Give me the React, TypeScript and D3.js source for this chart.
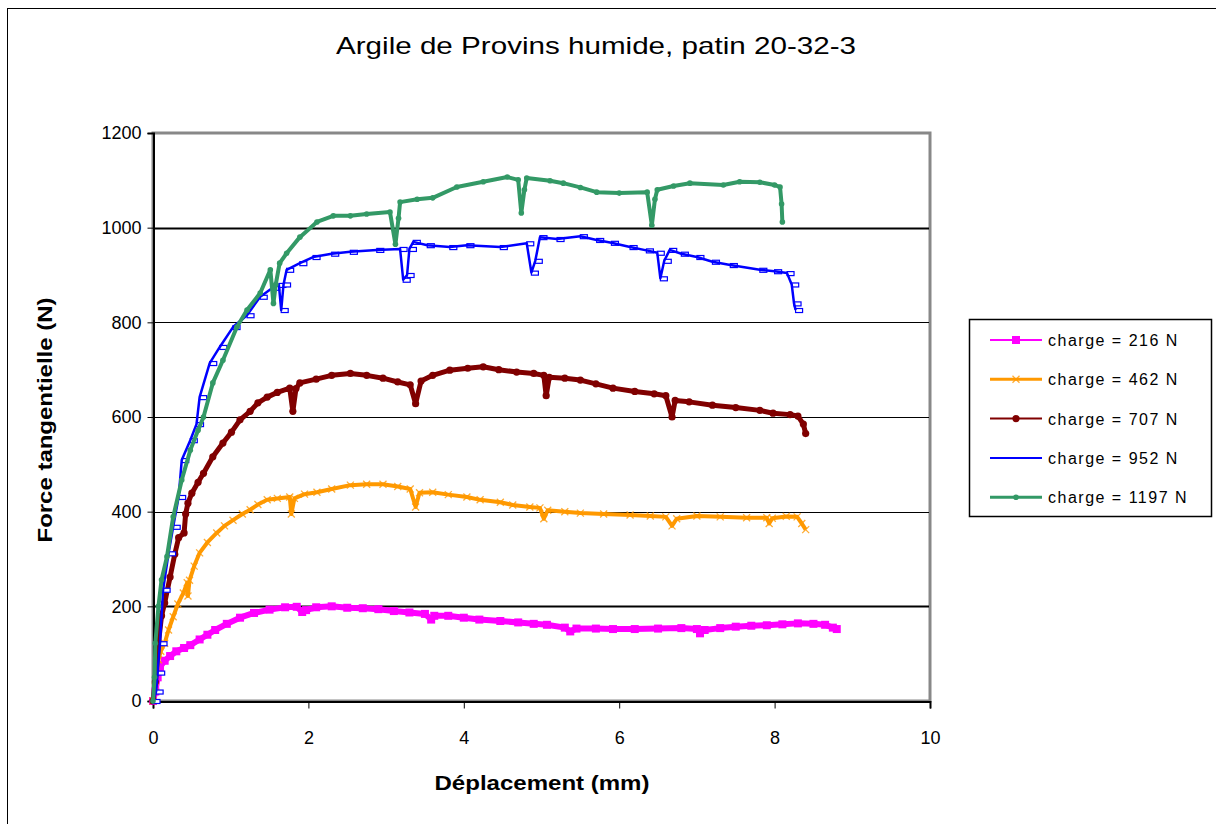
import * as React from 'react';
import {useEffect, useRef} from 'react';
import * as d3 from 'd3';

// déplacement (mm), force tangentielle (N)
const serie216 = [
  [0, 0], [0.03, 20], [0.06, 50], [0.09, 72], [0.15, 85], [0.22, 95], [0.3, 105], [0.4, 112], [0.48, 118],
  [0.6, 130], [0.7, 140], [0.8, 150], [0.95, 163], [1.12, 176], [1.3, 186], [1.5, 193], [1.7, 198], [1.85, 199],
  [1.92, 188], [1.97, 192], [2.1, 198], [2.3, 200], [2.5, 197], [2.7, 196], [2.9, 194], [3.1, 190], [3.3, 187],
  [3.5, 184], [3.58, 172], [3.62, 180], [3.8, 180], [4.0, 176], [4.2, 172], [4.47, 169], [4.7, 166], [4.9, 163],
  [5.07, 161], [5.3, 155], [5.37, 147], [5.45, 153], [5.7, 153], [5.92, 152], [6.2, 152], [6.5, 153], [6.8, 154],
  [7.0, 152], [7.04, 143], [7.1, 150], [7.3, 154], [7.5, 157], [7.7, 159], [7.9, 160], [8.1, 162], [8.3, 164],
  [8.5, 163], [8.65, 161], [8.75, 155], [8.8, 152]
];

const serie462 = [
  [0, 0], [0.03, 30], [0.07, 87], [0.1, 105], [0.15, 122], [0.2, 150], [0.26, 178], [0.32, 205], [0.39, 228],
  [0.44, 250], [0.45, 222], [0.47, 255], [0.53, 285], [0.6, 313], [0.7, 335], [0.82, 355], [0.92, 370], [1.03, 382],
  [1.15, 395], [1.25, 404], [1.35, 415], [1.47, 425], [1.6, 428], [1.76, 431], [1.78, 395], [1.82, 428], [1.95, 437],
  [2.11, 441], [2.3, 448], [2.54, 456], [2.75, 458], [2.96, 458], [3.15, 453], [3.31, 448], [3.38, 410], [3.43, 440],
  [3.6, 441], [3.8, 436], [4.04, 431], [4.21, 425], [4.47, 420], [4.63, 414], [4.85, 410], [4.98, 408], [5.03, 385],
  [5.08, 403], [5.3, 400], [5.5, 397], [5.8, 395], [6.14, 393], [6.4, 391], [6.6, 389], [6.68, 370], [6.74, 385],
  [7.0, 391], [7.3, 389], [7.64, 387], [7.9, 387], [7.93, 375], [7.97, 386], [8.15, 390], [8.29, 389], [8.35, 375],
  [8.4, 362]
];

const serie707 = [
  [0, 0], [0.03, 40], [0.07, 122], [0.11, 180], [0.15, 207], [0.22, 262], [0.28, 310], [0.33, 345], [0.4, 355],
  [0.42, 395], [0.45, 418], [0.5, 439], [0.58, 462], [0.65, 481], [0.77, 516], [0.9, 545], [1.01, 568], [1.12, 594],
  [1.25, 612], [1.35, 630], [1.47, 642], [1.6, 652], [1.76, 661], [1.8, 612], [1.84, 660], [1.89, 672], [2.1, 680],
  [2.3, 688], [2.54, 692], [2.75, 688], [2.96, 682], [3.15, 674], [3.31, 668], [3.38, 628], [3.45, 676], [3.6, 688],
  [3.82, 699], [4.05, 703], [4.25, 706], [4.45, 700], [4.68, 695], [4.9, 692], [5.03, 688], [5.06, 645], [5.1, 684],
  [5.3, 682], [5.5, 678], [5.7, 670], [5.92, 661], [6.2, 654], [6.45, 649], [6.6, 645], [6.68, 600], [6.72, 635],
  [6.9, 632], [7.2, 625], [7.5, 620], [7.81, 614], [7.98, 608], [8.2, 605], [8.3, 602], [8.37, 585], [8.4, 565]
];

const serie952 = [
  [0, 0], [0.04, 20], [0.06, 60], [0.09, 122], [0.13, 235], [0.2, 312], [0.26, 368], [0.33, 431], [0.37, 509],
  [0.48, 551], [0.56, 585], [0.6, 642], [0.73, 714], [0.86, 748], [1.03, 790], [1.21, 815], [1.38, 854], [1.54, 873],
  [1.62, 879], [1.65, 826], [1.68, 880], [1.72, 911], [1.89, 925], [2.06, 938], [2.3, 945], [2.54, 949], [2.88, 953],
  [3.18, 955], [3.22, 890], [3.27, 900], [3.3, 955], [3.35, 970], [3.53, 963], [3.82, 959], [4.04, 963], [4.47, 959],
  [4.81, 967], [4.87, 905], [4.92, 930], [4.98, 980], [5.2, 976], [5.5, 982], [5.71, 974], [5.9, 968], [6.14, 959],
  [6.35, 952], [6.49, 947], [6.53, 893], [6.58, 930], [6.65, 953], [6.8, 945], [7.0, 938], [7.2, 928], [7.43, 921],
  [7.81, 911], [8.0, 908], [8.16, 904], [8.22, 880], [8.25, 840], [8.27, 826]
];

const serie1197 = [
  [0, 0], [0.02, 50], [0.03, 122], [0.07, 200], [0.11, 256], [0.18, 305], [0.26, 389], [0.37, 467], [0.48, 530],
  [0.58, 572], [0.65, 600], [0.77, 672], [0.9, 720], [1.08, 790], [1.21, 826], [1.38, 862], [1.51, 911], [1.55, 840],
  [1.58, 880], [1.63, 925], [1.72, 946], [1.89, 980], [2.11, 1012], [2.32, 1025], [2.54, 1025], [2.75, 1029],
  [3.05, 1033], [3.12, 965], [3.16, 1020], [3.18, 1054], [3.4, 1060], [3.6, 1063], [3.91, 1086], [4.25, 1097],
  [4.56, 1107], [4.7, 1101], [4.74, 1031], [4.78, 1080], [4.81, 1105], [5.11, 1099], [5.28, 1094], [5.5, 1085],
  [5.71, 1075], [6.0, 1073], [6.36, 1075], [6.42, 1005], [6.46, 1060], [6.49, 1080], [6.7, 1088], [6.91, 1094],
  [7.34, 1090], [7.55, 1097], [7.81, 1096], [8.0, 1090], [8.07, 1086], [8.09, 1050], [8.1, 1012]
];

const legendLabels = ['charge = 216 N', 'charge = 462 N', 'charge = 707 N', 'charge = 952 N', 'charge = 1197 N'];
const seriesColors = ['#ff00ff', '#ff9900', '#800000', '#0000ff', '#339966'];
const seriesMarkers = ['square', 'cross', 'circle', 'rect', 'dot'];
const xTicks = [0, 2, 4, 6, 8, 10];
const yTicks = [0, 200, 400, 600, 800, 1000, 1200];

const W = 1216, H = 824;
const FONT = '"Liberation Sans", Arial, sans-serif';

const App = () => {
  const chartRef = useRef(null);

  useEffect(() => {
    const svg = d3.select(chartRef.current);
    svg.selectAll('*').remove();

    const xScale = d3.scaleLinear().domain([0, 10]).range([153, 930]);
    const yScale = d3.scaleLinear().domain([0, 1200]).range([701, 133]);

    svg.append('rect').attr('width', W).attr('height', H).attr('fill', 'white');
    svg.append('rect')
      .attr('x', 7.5).attr('y', 8.5).attr('width', W + 10).attr('height', H + 10)
      .attr('fill', 'none').attr('stroke', 'black').attr('stroke-width', 1);

    // title
    svg.append('text')
      .attr('x', 596).attr('y', 54)
      .attr('text-anchor', 'middle')
      .attr('textLength', 520).attr('lengthAdjust', 'spacingAndGlyphs')
      .style('font-family', FONT).style('font-size', '24px')
      .text('Argile de Provins humide, patin 20-32-3');

    // plot frame
    svg.append('rect')
      .attr('x', 153).attr('y', 133).attr('width', 777).attr('height', 568)
      .attr('fill', 'white').attr('stroke', '#888').attr('stroke-width', 3);

    // gridlines
    svg.append('g').selectAll('line')
      .data(yTicks.filter(d => d > 0 && d < 1200))
      .enter().append('line')
      .attr('x1', 153).attr('x2', 929)
      .attr('y1', d => Math.round(yScale(d)) + 0.5).attr('y2', d => Math.round(yScale(d)) + 0.5)
      .attr('stroke', 'black')
      .attr('stroke-width', d => (d === 1000 || d === 200) ? 2 : 1);

    // axes
    const yAxis = d3.axisLeft(yScale).tickValues(yTicks).tickSize(6).tickFormat(d => String(d));
    const gy = svg.append('g').attr('transform', 'translate(153.5,0)').call(yAxis);
    gy.select('.domain').attr('stroke-width', 2);
    gy.selectAll('text').attr('x', -12).style('font-family', FONT).style('font-size', '18px').style('fill', 'black');

    const xAxis = d3.axisBottom(xScale).tickValues(xTicks).tickSize(7).tickFormat(d => String(d));
    const gx = svg.append('g').attr('transform', 'translate(0,701.5)').call(xAxis);
    gx.select('.domain').attr('stroke-width', 2);
    gx.selectAll('text').attr('y', 30).style('font-family', FONT).style('font-size', '18px').style('fill', 'black');

    // axis titles
    svg.append('text')
      .attr('x', 542).attr('y', 790)
      .attr('text-anchor', 'middle')
      .attr('textLength', 215).attr('lengthAdjust', 'spacingAndGlyphs')
      .style('font-family', FONT).style('font-size', '21px').style('font-weight', 'bold')
      .text('Déplacement (mm)');

    svg.append('text')
      .attr('transform', 'translate(52,420) rotate(-90)')
      .attr('text-anchor', 'middle')
      .attr('textLength', 245).attr('lengthAdjust', 'spacingAndGlyphs')
      .style('font-family', FONT).style('font-size', '21px').style('font-weight', 'bold')
      .text('Force tangentielle (N)');

    // series
    const allSeries = [serie216, serie462, serie707, serie952, serie1197];
    const widths = [6, 4, 5, 2.5, 4];
    const line = d3.line().x(d => xScale(d[0])).y(d => yScale(d[1]));

    const drawMarker = (g, kind, color, x, y) => {
      if (kind === 'square') {
        g.append('rect').attr('x', x - 4).attr('y', y - 4).attr('width', 8).attr('height', 8).attr('fill', color);
      } else if (kind === 'cross') {
        g.append('path').attr('d', `M${x - 3.5},${y - 3.5}L${x + 3.5},${y + 3.5}M${x - 3.5},${y + 3.5}L${x + 3.5},${y - 3.5}`)
          .attr('stroke', color).attr('stroke-width', 1.3).attr('opacity', 0.8);
      } else if (kind === 'circle') {
        g.append('circle').attr('cx', x).attr('cy', y).attr('r', 3.6).attr('fill', color);
      } else if (kind === 'rect') {
        g.append('rect').attr('x', x).attr('y', y - 1.5).attr('width', 7).attr('height', 4)
          .attr('fill', 'white').attr('stroke', color).attr('stroke-width', 1.2);
      } else {
        g.append('circle').attr('cx', x).attr('cy', y).attr('r', 2.8).attr('fill', color);
      }
    };

    const plot = svg.append('g');
    allSeries.forEach((serie, i) => {
      const g = plot.append('g');
      if (seriesMarkers[i] === 'rect') {
        serie.forEach(d => drawMarker(g, 'rect', seriesColors[i], xScale(d[0]), yScale(d[1])));
      }
      g.append('path')
        .datum(serie)
        .attr('d', line)
        .attr('fill', 'none')
        .attr('stroke', seriesColors[i])
        .attr('stroke-width', widths[i])
        .attr('stroke-linejoin', 'round');
      if (seriesMarkers[i] !== 'rect') {
        serie.forEach(d => drawMarker(g, seriesMarkers[i], seriesColors[i], xScale(d[0]), yScale(d[1])));
      }
    });

    // legend
    const legend = svg.append('g');
    legend.append('rect')
      .attr('x', 969.5).attr('y', 319.5).attr('width', 242).attr('height', 197)
      .attr('fill', 'white').attr('stroke', 'black').attr('stroke-width', 1.5);
    legendLabels.forEach((label, i) => {
      const y = 340 + i * 39.3;
      legend.append('line')
        .attr('x1', 990).attr('x2', 1042).attr('y1', y).attr('y2', y)
        .attr('stroke', seriesColors[i]).attr('stroke-width', i === 1 || i === 4 ? 3 : 2);
      if (seriesMarkers[i] !== 'rect') drawMarker(legend, seriesMarkers[i], seriesColors[i], 1016, y);
      legend.append('text')
        .attr('x', 1048).attr('y', y + 6)
        .style('font-family', FONT).style('font-size', '16px').style('letter-spacing', '1.5px')
        .text(label);
    });
  }, []);

  return (
    <svg ref={chartRef} width={W} height={H} style={{position: 'absolute', left: 0, top: 0}}></svg>
  );
};

export default App;
